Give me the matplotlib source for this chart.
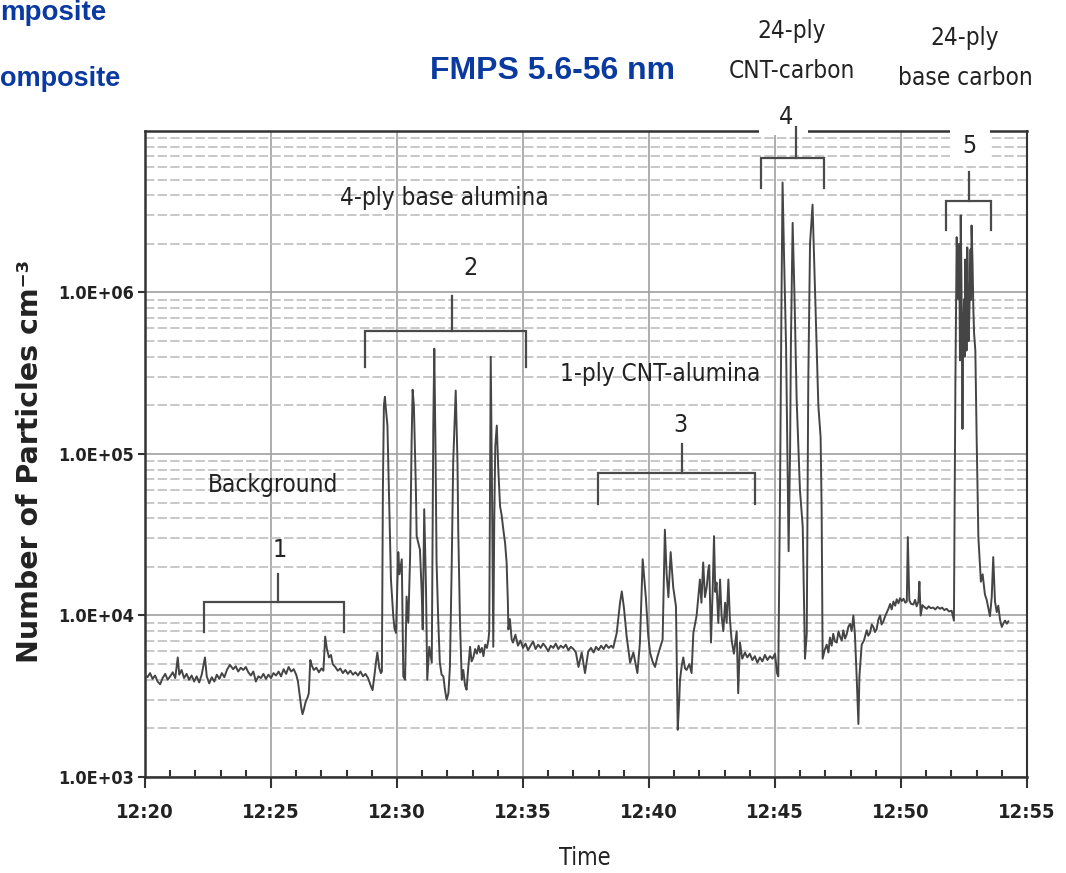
import matplotlib
matplotlib.use('Agg')
import matplotlib.pyplot as plt
from matplotlib.ticker import FixedLocator, MultipleLocator, LogLocator, NullFormatter
from matplotlib.patches import Rectangle

# FMPS 5.6-56 nm trace, minutes after 12:20 and particles per cm3
bg_t = [0.0, 0.1, 0.2, 0.3, 0.4, 0.5, 0.6, 0.7, 0.8, 0.9, 1.0, 1.1, 1.2, 1.3,
        1.36, 1.45, 1.55, 1.65, 1.75, 1.85, 1.95, 2.05, 2.15, 2.25,
        2.38, 2.45, 2.55, 2.65, 2.75, 2.85, 2.95, 3.05, 3.15, 3.25,
        3.37, 3.5, 3.6, 3.7, 3.8, 3.9,
        4.0, 4.1, 4.2, 4.3, 4.4, 4.5, 4.6, 4.7, 4.8, 4.9, 5.0, 5.1, 5.2, 5.3, 5.4,
        5.5, 5.6, 5.7, 5.8, 5.9, 6.0,
        6.07, 6.14, 6.2, 6.25, 6.3, 6.37, 6.45, 6.5, 6.56, 6.62, 6.7,
        6.8, 6.9, 7.0, 7.08, 7.15, 7.22, 7.3, 7.38, 7.45,
        7.55, 7.65, 7.75, 7.85, 7.95, 8.05, 8.15, 8.25, 8.35, 8.45, 8.55, 8.65,
        8.75, 8.85, 8.95,
        9.03, 9.1, 9.17, 9.22, 9.3, 9.36]
bg_n = [4300, 4150, 4400, 4050, 4250, 3900, 3750, 4100, 4350, 4000, 4200, 4450, 4100, 5500,
        4300, 4600, 4100, 4350, 4000, 4250, 3900, 4200, 3850, 4300,
        5500, 4200, 3800, 4150, 3900, 4300, 4050, 4400, 4150, 4600,
        4950, 4650, 4850, 4500, 4750, 4600,
        4800, 4450, 4250, 4500, 3900, 4200, 4100, 4350, 4050, 4300, 4100, 4400, 4250, 4500, 4200,
        4650, 4350, 4800, 4500, 4650, 4300,
        3900, 3200, 2700, 2450, 2600, 2900, 3100, 3300, 5300, 4900, 4600,
        4750, 4450, 4700, 4550, 7400, 6200, 5500, 5700, 5000,
        4800, 4550, 4700, 4400, 4600, 4350, 4550, 4300, 4450, 4250, 4500, 4200,
        4350, 4100, 3700,
        3450, 4200, 5200, 5900, 4700, 4400]

al4_t = [9.40, 9.44, 9.48, 9.52, 9.56, 9.62, 9.68, 9.76, 9.85, 9.90, 9.96, 10.05, 10.10,
         10.19, 10.25, 10.32, 10.38, 10.45, 10.52, 10.58, 10.62, 10.67, 10.75, 10.78, 10.85,
         10.91, 10.98, 11.02, 11.08, 11.15, 11.20, 11.28, 11.38, 11.44, 11.48, 11.53, 11.57,
         11.64, 11.70, 11.77, 11.84, 11.90, 11.97, 12.04, 12.10, 12.17, 12.23, 12.33, 12.40,
         12.43, 12.50, 12.57, 12.63, 12.70, 12.76, 12.83, 12.90, 12.96, 13.03, 13.10, 13.17,
         13.24, 13.30, 13.37, 13.43, 13.50, 13.57, 13.63, 13.66, 13.72, 13.77, 13.82, 13.86,
         13.90, 13.96, 14.02, 14.09, 14.15, 14.22, 14.29, 14.35, 14.40, 14.42, 14.48, 14.55]
al4_n = [4500, 60000, 200000, 226000, 190000, 150000, 60000, 16700, 10000, 8300, 7800, 24700, 18000,
         22300, 4200, 4000, 13100, 9000, 23300, 120000, 250000, 200000, 60000, 31000, 28000,
         25600, 14000, 8200, 45500, 15000, 4000, 6400, 5100, 150000, 449000, 100000, 21300,
         9000, 5100, 4300, 4200, 3500, 3000, 3300, 4800, 20000, 89000, 247000, 90000,
         34000, 9000, 4000, 4600, 3700, 3470, 4800, 6400, 5200, 5500, 6200, 5800,
         6500, 5900, 6300, 5600, 6600, 6300, 7100, 8000, 400000, 60000, 6400, 40000,
         112000, 150000, 80000, 47500, 42000, 34000, 28000, 21300, 12000, 8200, 9500, 7100]

al1_t = [14.6, 14.7, 14.8, 14.9, 15.0, 15.1, 15.2, 15.3, 15.4, 15.5, 15.6, 15.7, 15.8, 15.9,
         16.0, 16.1, 16.2, 16.3, 16.4, 16.5, 16.6, 16.7, 16.8, 16.9, 17.0, 17.1, 17.2,
         17.33, 17.46, 17.59, 17.7, 17.8, 17.9, 18.0, 18.1, 18.2, 18.3, 18.4, 18.5,
         18.58, 18.72, 18.85, 18.92, 19.01, 19.11, 19.25, 19.38, 19.54, 19.64,
         19.75, 19.81, 19.88, 19.97, 20.04, 20.14, 20.24, 20.34, 20.44, 20.54,
         20.6, 20.63, 20.7, 20.77, 20.86, 20.96, 21.07, 21.14, 21.2, 21.23,
         21.3, 21.36, 21.43, 21.49, 21.6, 21.69, 21.76, 21.89, 22.02, 22.08,
         22.15, 22.22, 22.29, 22.35, 22.39, 22.46, 22.53, 22.58, 22.63, 22.68,
         22.75, 22.82, 22.88, 22.95, 23.02, 23.08, 23.15, 23.21, 23.28, 23.37,
         23.48, 23.54, 23.61, 23.7, 23.81,
         23.9, 24.0, 24.1, 24.2, 24.3, 24.4, 24.5, 24.6, 24.7, 24.8, 24.9, 25.0, 25.08]
al1_n = [6800, 7600, 6500, 7000, 6300, 6700, 6100, 6500, 6900, 6200, 6600, 6300, 6700, 6400,
         6000, 6500, 6300, 6700, 6200, 6500, 6300, 6600, 6100, 6400, 6200, 5900, 4800,
         5900, 4400, 6000, 6300, 5900, 6400, 6100, 6500, 6200, 6600, 6300, 6500,
         6300, 7800, 12000, 14100, 11000, 7500, 5100, 5900, 4400, 6800,
         22300, 17000, 12600, 7500, 5900, 5200, 4800, 5600, 6300, 7100,
         20000, 34000, 18000, 13000, 24700, 15000, 11400, 1960, 3000, 4000,
         4900, 5500, 4700, 4600, 5000, 4400, 7800, 10000, 16700, 12000,
         21300, 13000, 15000, 19000, 20500, 6800, 15000, 31000, 14000, 16000,
         9000, 16700, 10000, 8000, 12000, 9000, 16700, 9500, 7000, 5800,
         8000, 3300, 6800, 5400, 5900,
         5500, 5800, 5300, 5600, 5100, 5500, 5200, 5700, 5300, 5600, 5400, 5800, 4400]

cc_t = [25.13, 25.2, 25.26, 25.3, 25.36, 25.44, 25.49, 25.54, 25.6, 25.63, 25.7, 25.77,
        25.86, 25.99, 26.1, 26.19, 26.26, 26.32, 26.39, 26.49, 26.59, 26.72, 26.81, 26.85,
        26.89, 26.97, 27.05, 27.12, 27.18, 27.25, 27.31, 27.38, 27.45, 27.52, 27.58, 27.65,
        27.71, 27.78, 27.84, 27.91, 27.98, 28.04, 28.11, 28.17, 28.24, 28.31, 28.35, 28.44,
        28.53, 28.64, 28.7, 28.77, 28.84, 28.9, 28.97, 29.03, 29.1, 29.17, 29.23, 29.3,
        29.37, 29.43]
cc_n = [4200, 60000, 1000000, 4800000, 1650000, 457000, 100000, 25000, 110000, 457000, 2700000, 1000000,
        215000, 60000, 35500, 5400, 7700, 275000, 2000000, 3500000, 1000000, 200000, 127000, 46000,
        5400, 6100, 6600, 5900, 7300, 6500, 7700, 6900, 6800, 8000, 7400, 7000,
        8100, 7200, 7600, 8500, 8900, 8000, 10000, 7700, 4200, 2130, 4200, 6600,
        7000, 8100, 7500, 7800, 8800, 8500, 7900, 8200, 9400, 10000, 8800, 9200,
        9900, 10400]

bc_t = [29.5, 29.57, 29.63, 29.7, 29.77, 29.83, 29.9, 29.96, 30.03, 30.1, 30.17, 30.23,
        30.27, 30.33, 30.4, 30.49, 30.56, 30.62, 30.69, 30.73, 30.78, 30.85, 30.92, 31.02,
        31.1, 31.18, 31.28, 31.36, 31.45, 31.55, 31.63, 31.72, 31.81, 31.9, 32.01, 32.1,
        32.16, 32.21, 32.25, 32.28, 32.31, 32.34, 32.37, 32.4, 32.44, 32.47, 32.5, 32.53,
        32.55, 32.58, 32.6, 32.63, 32.65, 32.68, 32.71, 32.74, 32.76, 32.78, 32.8, 32.84,
        32.87, 32.9, 32.95, 33.0, 33.07, 33.13, 33.17, 33.24, 33.33, 33.4, 33.47, 33.53,
        33.6, 33.66, 33.73, 33.8, 33.86, 33.93, 34.0, 34.07, 34.13, 34.2, 34.26]
bc_n = [11000, 11800, 10900, 12200, 11500, 12600, 11900, 12800, 12300, 12700, 12000, 12200,
        30600, 12400, 11800, 11700, 12500, 11400, 12200, 16200, 10000, 11600, 11300, 11000,
        11400, 11100, 11200, 10900, 11300, 11000, 11200, 10800, 11000, 10600, 10700, 9300,
        297000, 2200000, 1200000, 908000, 2000000, 380000, 3000000, 1140000, 143000, 600000, 908000, 400000,
        1600000, 700000, 437000, 1900000, 1320000, 500000, 710000, 1300000, 1850000, 900000, 2600000, 1500000,
        800000, 560000, 437000, 131000, 30600, 20700, 16200, 18000, 13500, 12500, 11000, 9900,
        13000, 23000, 12200, 10500, 11500, 9400, 8500, 9000, 9300, 8900, 9200]

xtick_labels = ['12:20', '12:25', '12:30', '12:35', '12:40', '12:45', '12:50', '12:55']
ytick_labels = ['1.0E+03', '1.0E+04', '1.0E+05', '1.0E+06']
event_names = ['Background', '4-ply base alumina', '1-ply CNT-alumina',
               '24-ply\nCNT-carbon', '24-ply\nbase carbon']
event_nums = ['1', '2', '3', '4', '5']

cond = dict(family='DejaVu Sans', fontstretch='condensed')
arial = ['Liberation Sans', 'DejaVu Sans']
ink = '#222222'

fig = plt.figure(figsize=(10.66, 8.73), dpi=100)
ax = fig.add_axes([145 / 1066, 96 / 873, 882 / 1066, 646 / 873])

t = bg_t + al4_t + al1_t + cc_t + bc_t
n = bg_n + al4_n + al1_n + cc_n + bc_n
ax.plot(t, n, color='#454545', lw=1.4, zorder=3)

ax.set_yscale('log')
ax.set_xlim(0, 35)
ax.set_ylim(1e3, 1e7)

ax.xaxis.set_major_locator(FixedLocator(range(0, 36, 5)))
ax.xaxis.set_minor_locator(MultipleLocator(1))
ax.set_xticklabels(xtick_labels, weight='bold', fontsize=14.5, color=ink, **cond)
ax.yaxis.set_major_locator(FixedLocator([1e3, 1e4, 1e5, 1e6]))
ax.set_yticklabels(ytick_labels, weight='bold', fontsize=13, color=ink, **cond)
ax.yaxis.set_minor_locator(LogLocator(base=10, subs=range(2, 10)))
ax.yaxis.set_minor_formatter(NullFormatter())

ax.tick_params(axis='x', which='major', direction='out', length=8, width=1.5, pad=11, colors='#333333')
ax.tick_params(axis='x', which='minor', direction='in', length=5, width=1.5, colors='#333333')
ax.tick_params(axis='y', which='major', direction='out', length=5, width=1.5, pad=3, colors='#333333')
ax.tick_params(axis='y', which='minor', length=0)
for lab in ax.get_xticklabels() + ax.get_yticklabels():
    lab.set_color(ink)

ax.grid(which='major', axis='both', color='#a0a0a0', lw=1.2, zorder=0)
ax.grid(which='minor', axis='y', color='#c8c8c8', lw=1.4, linestyle=(0, (4.8, 1.7)), zorder=0)
ax.set_axisbelow(True)

for side in ['left', 'bottom', 'top']:
    ax.spines[side].set_linewidth(1.8)
    ax.spines[side].set_color('#333333')
ax.spines['right'].set_linewidth(1.5)
ax.spines['right'].set_color('#333333')

# white gaps in the top frame behind the labels 4 and 5
ax.add_patch(Rectangle((0.696, 0.994), 0.056, 0.06, transform=ax.transAxes,
                       facecolor='white', edgecolor='none', clip_on=False, zorder=4))
ax.add_patch(Rectangle((0.9127, 0.951), 0.0455, 0.07, transform=ax.transAxes,
                       facecolor='white', edgecolor='none', clip_on=False, zorder=4))

# brackets: x0, x1, bar level, end level, stem x, stem top
brackets = [(2.34, 7.9, 12200, 7940, 5.28, 18000),
            (8.73, 15.1, 575000, 347000, 12.17, 948000),
            (17.99, 24.2, 75900, 49000, 21.3, 115000),
            (24.43, 26.96, 6.76e6, 4.43e6, 25.82, 1.06e7),
            (31.77, 33.56, 3.69e6, 2.44e6, 32.71, 5.6e6)]
for x0, x1, yb, ye, xs, ys in brackets:
    ax.plot([x0, x0, x1, x1], [ye, yb, yb, ye], color='#4a4a4a', lw=1.6,
            clip_on=False, zorder=5, solid_joinstyle='miter')
    ax.plot([xs, xs], [yb, ys], color='#4a4a4a', lw=1.6, clip_on=False, zorder=5)

name_pos = [(5.1, 58100), (11.87, 3.47e6), (20.44, 284000)]
for name, (x, y) in zip(event_names[:3], name_pos):
    ax.text(x, y, name, fontsize=17.5, color=ink, ha='center', va='baseline', zorder=6, **cond)

num_pos = [(5.36, 22900), (12.9, 1.28e6), (21.23, 137000), (25.44, 1.10e7), (32.7, 7.3e6)]
for num, (x, y) in zip(event_nums, num_pos):
    ax.text(x, y, num, fontsize=18, color=ink, ha='center', va='baseline',
            zorder=6, clip_on=False, **cond)

# labels above the frame (figure pixels from top-left)
top_pos = [(792, 38, 78), (965, 45, 85)]
for name, (px, y1, y2) in zip(event_names[3:], top_pos):
    l1, l2 = name.split('\n')
    fig.text(px / 1066, 1 - y1 / 873, l1, fontsize=17.5, color=ink,
             ha='center', va='baseline', **cond)
    fig.text(px / 1066, 1 - y2 / 873, l2, fontsize=17.5, color=ink,
             ha='center', va='baseline', **cond)

blue = '#0a3aa0'
fig.text(553 / 1066, 1 - 79 / 873, 'FMPS 5.6-56 nm', family=arial, weight='bold',
         fontsize=23, color=blue, ha='center', va='baseline')
# the panel's left titles are cut at the page edge in the source
fig.text(0.0, 1 - 20 / 873, 'mposite', family=arial, weight='bold',
         fontsize=20, color=blue, ha='left', va='baseline')
fig.text(0.0, 1 - 86 / 873, 'omposite', family=arial, weight='bold',
         fontsize=19.5, color=blue, ha='left', va='baseline')

fig.text(30 / 1066, 1 - 461 / 873, 'Number of Particles cm\u207b\u00b3', family='DejaVu Sans',
         weight='bold', fontsize=20.5, color=ink, rotation=90, ha='center', va='center')
fig.text(585 / 1066, 1 - 865 / 873, 'Time', fontsize=17, color=ink,
         ha='center', va='baseline', **cond)

fig.savefig('out.png', dpi=100)
